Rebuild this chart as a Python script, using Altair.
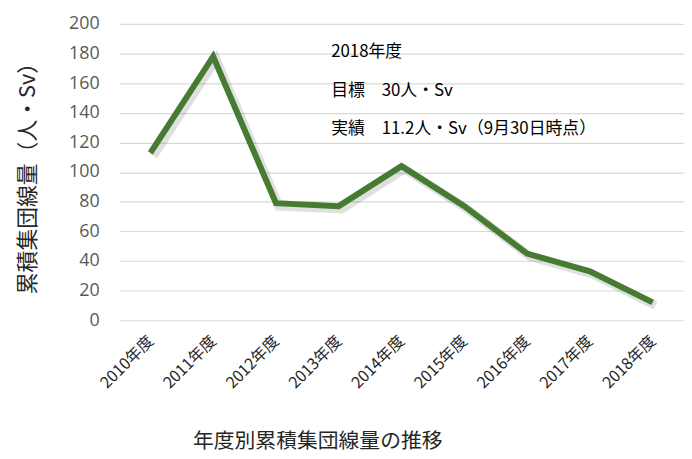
import altair as alt
import pandas as pd

years = ["2010年度", "2011年度", "2012年度", "2013年度", "2014年度",
         "2015年度", "2016年度", "2017年度", "2018年度"]
values = [113, 178, 79, 77, 104, 77, 45, 33, 12]
y_ticks = [0, 20, 40, 60, 80, 100, 120, 140, 160, 180, 200]
notes = ["2018年度", "目標　30人・Sv", "実績　11.2人・Sv（9月30日時点）"]
note_y = [28, 68, 106]

df = pd.DataFrame({"year": years, "value": values})
FONT = "Noto Sans CJK JP"

x = alt.X("year:N", sort=years, scale=alt.Scale(type="point", padding=0.5),
          axis=alt.Axis(title="年度別累積集団線量の推移", labelAngle=-45, labelAlign="right",
                        labelBaseline="middle", labelFontSize=16, labelColor="#262626",
                        labelFont=FONT, domain=False, ticks=False, labelPadding=18,
                        titleFont=FONT, titleFontSize=21, titleFontWeight="normal",
                        titleColor="#262626", titleX=200, titleY=122, titleAlign="center",
                        titleBaseline="middle"))
y = alt.Y("value:Q", scale=alt.Scale(domain=[0, 200]),
          axis=alt.Axis(title="累積集団線量（人・Sv）", values=y_ticks, labelFontSize=18,
                        labelColor="#595959", labelFont="Open Sans", domain=False, ticks=False,
                        labelPadding=20, gridColor="#d9d9d9", gridWidth=1.2,
                        titleFont=FONT, titleFontSize=22, titleFontWeight="normal",
                        titleColor="#262626", titleX=-80, titleY=150, titleAlign="center"))

base = alt.Chart(df)
shadow = base.mark_line(color="#000000", opacity=0.12, strokeWidth=9, xOffset=3, yOffset=3,
                        strokeJoin="miter").encode(x=x, y=y)
line = base.mark_line(color="#467b32", strokeWidth=6, strokeJoin="miter").encode(x=x, y=y)

layers = [shadow, line]
for t, ny in zip(notes, note_y):
    layers.append(
        alt.Chart(pd.DataFrame({"t": [t]})).mark_text(
            align="left", baseline="middle", fontSize=17, font=FONT, color="#000000"
        ).encode(x=alt.value(214), y=alt.value(ny), text="t:N")
    )

chart = alt.layer(*layers).properties(
    width=570, height=299, autosize="none",
    padding={"left": 112, "top": 14, "right": 0, "bottom": 138}
).configure_view(stroke=None)

chart.save("out.html", embed_options={"renderer": "svg", "actions": False})
